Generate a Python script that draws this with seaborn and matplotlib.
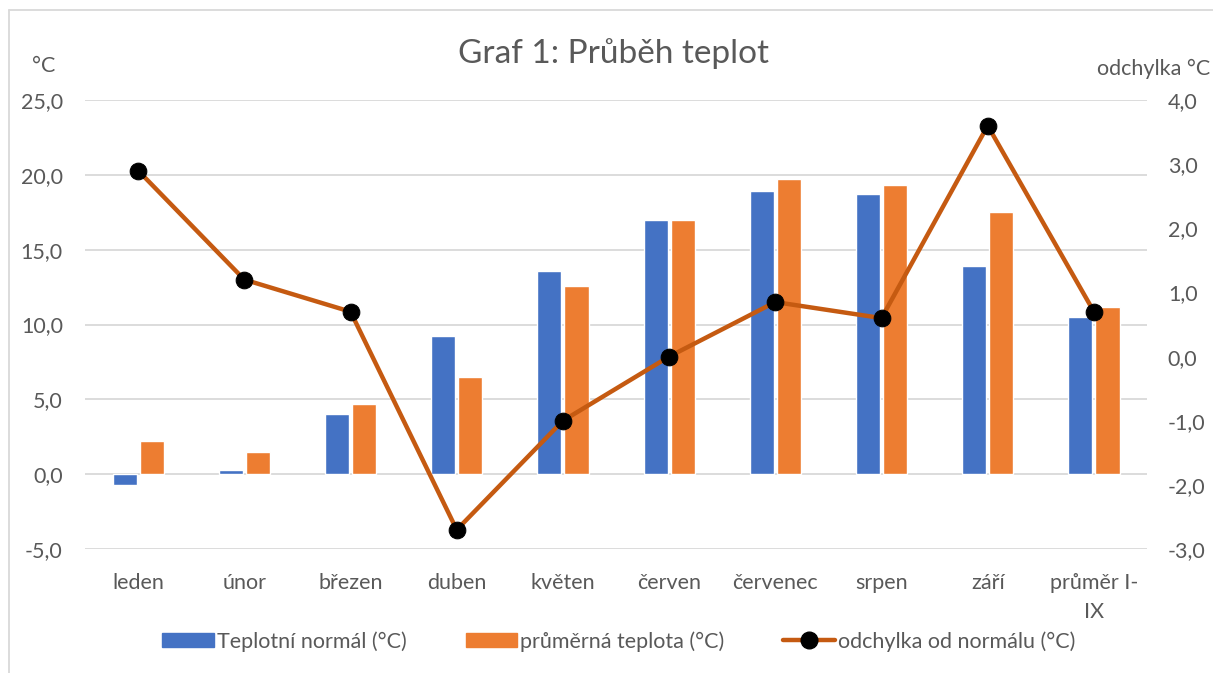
import numpy as np
import pandas as pd
import matplotlib
matplotlib.use("Agg")
import matplotlib.pyplot as plt
import seaborn as sns
from matplotlib.patches import Patch
from matplotlib.lines import Line2D
from matplotlib.ticker import FuncFormatter, MultipleLocator

months = ["leden", "únor", "březen", "duben", "květen", "červen",
          "červenec", "srpen", "září", "průměr I-\nIX"]
normal = [-0.7, 0.3, 4.0, 9.2, 13.6, 17.0, 18.9, 18.7, 13.9, 10.5]
actual = [2.2, 1.5, 4.7, 6.5, 12.6, 17.0, 19.7, 19.3, 17.5, 11.2]
deviation = [2.9, 1.2, 0.7, -2.7, -1.0, 0.0, 0.85, 0.6, 3.6, 0.7]

s_normal = "Teplotní normál (°C)"
s_actual = "průměrná teplota (°C)"
s_dev = "odchylka od normálu (°C)"

BLUE = "#4472C4"
ORANGE = "#ED7D31"
LINE = "#C55A11"
TXT = "#595959"
GRID = "#D9D9D9"
FS = 15.5

sns.set_theme(style="white")
plt.rcParams["font.family"] = ["Lato", "DejaVu Sans"]

df = pd.DataFrame({
    "month": months * 2,
    "series": [s_normal] * len(months) + [s_actual] * len(months),
    "value": normal + actual,
})

fig = plt.figure(figsize=(12.13, 6.73), dpi=100)
ax = fig.add_axes([0.0701, 0.1842, 0.9456 - 0.0701, 0.8514 - 0.1842])

sns.barplot(data=df, x="month", y="value", hue="series", order=months,
            hue_order=[s_normal, s_actual], palette=[BLUE, ORANGE],
            width=0.51, gap=0.11, ax=ax, legend=False, saturation=1)

ax.set_ylim(-5, 25)
ax.yaxis.set_major_locator(MultipleLocator(5))
fmt = FuncFormatter(lambda v, p: f"{v:.1f}".replace(".", ","))
ax.yaxis.set_major_formatter(fmt)
ax.grid(axis="y", color=GRID, linewidth=1.3)
ax.set_axisbelow(True)
for sp in ax.spines.values():
    sp.set_visible(False)
ax.set_xlabel("")
ax.set_ylabel("")
ax.set_xlim(-0.5, len(months) - 0.5)
ax.tick_params(axis="y", length=0, pad=16, labelsize=FS, labelcolor=TXT)
ax.tick_params(axis="x", length=0, pad=17, labelsize=FS, labelcolor=TXT)
for lbl in ax.get_xticklabels():
    lbl.set_linespacing(1.6)

ax2 = ax.twinx()
sns.lineplot(x=np.arange(len(months)), y=deviation, ax=ax2, color=LINE,
             linewidth=3.2, marker="o", markersize=12,
             markerfacecolor="black", markeredgecolor="black")
ax2.set_ylim(-3, 4)
ax2.yaxis.set_major_locator(MultipleLocator(1))
ax2.yaxis.set_major_formatter(fmt)
ax2.grid(False)
for sp in ax2.spines.values():
    sp.set_visible(False)
ax2.tick_params(axis="y", length=0, pad=15, labelsize=FS, labelcolor=TXT)
ax2.set_ylabel("")
ax.set_xlim(-0.5, len(months) - 0.5)

fig.text(0.506, 0.921, "Graf 1: Průběh teplot", ha="center", va="center",
         fontsize=24, color=TXT)
fig.text(0.036, 0.902, "°C", ha="center", va="center", fontsize=FS, color=TXT)
fig.text(0.9975, 0.898, "odchylka °C", ha="right", va="center",
         fontsize=FS, color=TXT)

handles = [
    Patch(facecolor=BLUE, edgecolor=BLUE),
    Patch(facecolor=ORANGE, edgecolor=ORANGE),
    Line2D([0], [0], color=LINE, linewidth=3.2, marker="o", markersize=12,
           markerfacecolor="black", markeredgecolor="black"),
]
leg = fig.legend(handles, [s_normal, s_actual, s_dev], loc="center",
                 bbox_to_anchor=(0.51, 0.047), ncol=3, frameon=False,
                 fontsize=FS, handlelength=2.4, handleheight=0.65,
                 handletextpad=0.12, columnspacing=2.75)
for t in leg.get_texts():
    t.set_color(TXT)

# chart area border (top and left edges visible)
fig.add_artist(Line2D([9 / 1213, 9 / 1213], [0, 1 - 10 / 673],
                      transform=fig.transFigure, color=GRID, linewidth=1.3))
fig.add_artist(Line2D([9 / 1213, 1], [1 - 10 / 673, 1 - 10 / 673],
                      transform=fig.transFigure, color=GRID, linewidth=1.3))

fig.savefig("out.png", dpi=100)
